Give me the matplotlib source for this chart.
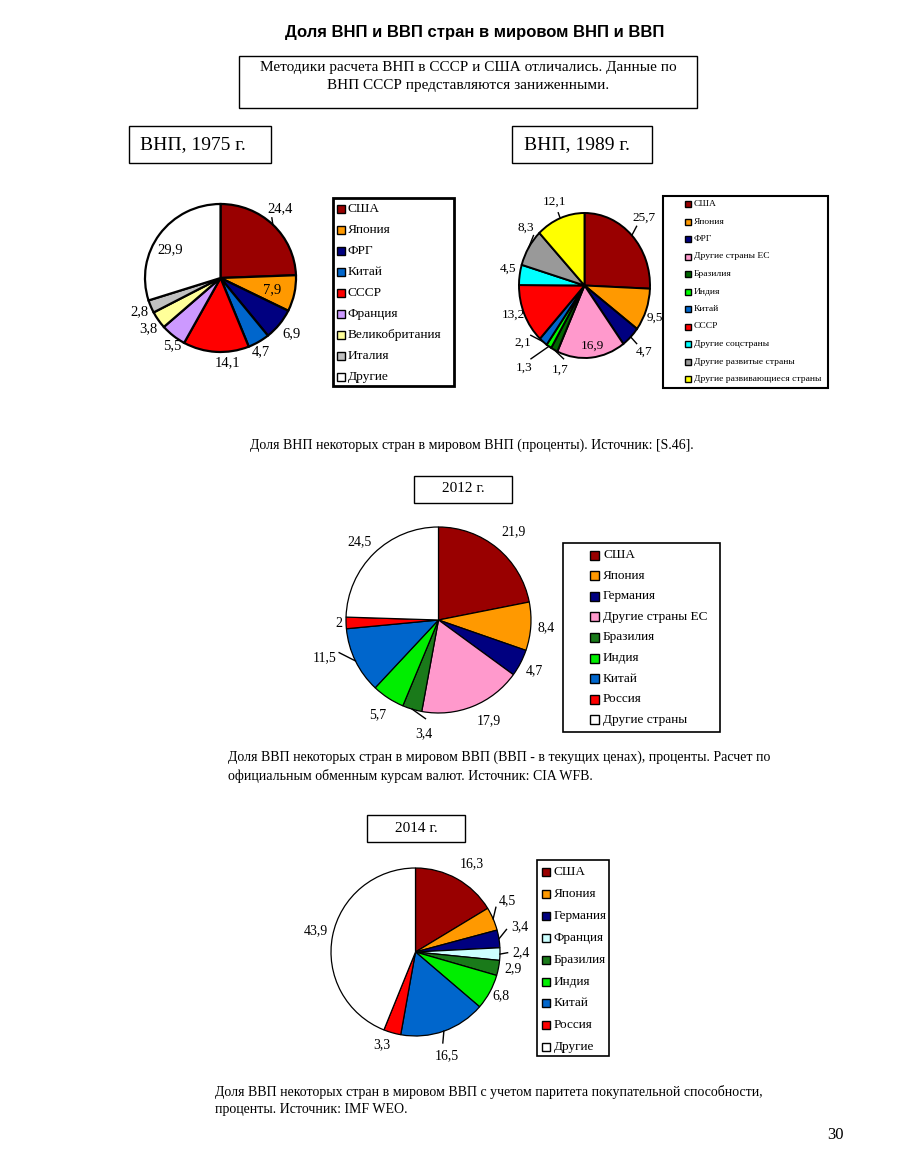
import numpy as np
import matplotlib
matplotlib.use("Agg")
import matplotlib.pyplot as plt
from matplotlib.patches import Rectangle

W, H = 907, 1154
SERIF = "Liberation Serif"

# ---- data ----
names_1975 = ["США", "Япония", "ФРГ", "Китай", "СССР", "Франция",
              "Великобритания", "Италия", "Другие"]
values_1975 = [24.4, 7.9, 6.9, 4.7, 14.1, 5.5, 3.8, 2.8, 29.9]
colors_1975 = ["#990000", "#FF9900", "#000080", "#0066CC", "#FF0000",
               "#CC99FF", "#FFFF99", "#C0C0C0", "#FFFFFF"]

names_1989 = ["США", "Япония", "ФРГ", "Другие страны ЕС", "Бразилия", "Индия",
              "Китай", "СССР", "Другие соцстраны", "Другие развитые страны",
              "Другие развивающиеся страны"]
values_1989 = [25.7, 9.5, 4.7, 16.9, 1.7, 1.3, 2.1, 13.2, 4.5, 8.3, 12.1]
colors_1989 = ["#990000", "#FF9900", "#000080", "#FF99CC", "#006600", "#00FF00",
               "#0066CC", "#FF0000", "#00FFFF", "#999999", "#FFFF00"]

names_2012 = ["США", "Япония", "Германия", "Другие страны ЕС", "Бразилия",
              "Индия", "Китай", "Россия", "Другие страны"]
values_2012 = [21.9, 8.4, 4.7, 17.9, 3.4, 5.7, 11.5, 2, 24.5]
colors_2012 = ["#990000", "#FF9900", "#000080", "#FF99CC", "#1A7A1A",
               "#00EE00", "#0066CC", "#FF0000", "#FFFFFF"]

names_2014 = ["США", "Япония", "Германия", "Франция", "Бразилия", "Индия",
              "Китай", "Россия", "Другие"]
values_2014 = [16.3, 4.5, 3.4, 2.4, 2.9, 6.8, 16.5, 3.3, 43.9]
colors_2014 = ["#990000", "#FF9900", "#000080", "#CCFFFF", "#1A7A1A",
               "#00EE00", "#0066CC", "#FF0000", "#FFFFFF"]

fig = plt.figure(figsize=(W / 100, H / 100), dpi=100)
fig.patch.set_facecolor("white")


def frac(x0, y0, x1, y1):
    return [x0 / W, 1 - y1 / H, (x1 - x0) / W, (y1 - y0) / H]


def draw_pie(box, values, colors, radii, shifts, leaders, lw, fs):
    ax = fig.add_axes(frac(*box))
    wedges, _ = ax.pie(values, colors=colors, startangle=90, counterclock=False,
                       wedgeprops=dict(edgecolor="black", linewidth=lw))
    ax.set_aspect("auto")
    ax.set_xlim(-1, 1)
    ax.set_ylim(-1, 1)
    for i, w in enumerate(wedges):
        w.set_clip_on(False)
        mid = np.deg2rad((w.theta1 + w.theta2) / 2)
        ang = mid - np.deg2rad(shifts[i])
        r = radii[i]
        lab = f"{values[i]:g}".replace(".", ",")
        ax.text(r * np.cos(ang), r * np.sin(ang), lab, ha="center", va="center",
                fontsize=fs, family=SERIF)
        if i in leaders:
            re = r - 0.16
            ax.plot([np.cos(mid), re * np.cos(ang)], [np.sin(mid), re * np.sin(ang)],
                    color="black", lw=1.0, clip_on=False)
    return ax


# pies
draw_pie((145, 204, 296, 352), values_1975, colors_1975,
         [1.22, 0.7, 1.2, 1.13, 1.15, 1.12, 1.18, 1.17, 0.77],
         [-4, 1.5, 0, 2, -8, -4, -1, 0, -6], [0], 1.6, 10.5)
draw_pie((519, 213, 650, 358), values_1989, colors_1989,
         [1.3, 1.16, 1.29, 0.84, 1.22, 1.46, 1.23, 1.16, 1.19, 1.2, 1.24],
         [-2, 3, 0, -2, -10, 6, 11, 3, 3, 10, 0], [0, 2, 4, 5, 6, 9, 10], 1.4, 9.5)
draw_pie((346, 527, 531, 713), values_2012, colors_2012,
         [1.25, 1.17, 1.17, 1.21, 1.23, 1.21, 1.29, 1.08, 1.2],
         [1, 0, 0, -5, -9, 0, 8, 0, -1], [4, 6], 0.9, 10)
draw_pie((331, 868, 500, 1036), values_2014, colors_2014,
         [1.25, 1.25, 1.27, 1.25, 1.17, 1.14, 1.29, 1.18, 1.2],
         [3, -6, -5, -1, -1, -1, 3, 4, 1], [1, 2, 3, 6], 0.9, 10)

# overlay for text, frames and legends (pixel coordinates)
ov = fig.add_axes([0, 0, 1, 1])
ov.set_xlim(0, W)
ov.set_ylim(H, 0)
ov.axis("off")
ov.set_zorder(5)


def frame(x0, y0, x1, y1, lw=1.0, fc="none"):
    ov.add_patch(Rectangle((x0, y0), x1 - x0, y1 - y0, fc=fc, ec="black", lw=lw))


def draw_legend(rect, names, colors, y_first, step, sq_x, sq, tx, fs, lw):
    frame(*rect, lw=lw, fc="white")
    for i, (n, c) in enumerate(zip(names, colors)):
        y = y_first + i * step
        ov.add_patch(Rectangle((sq_x, y - sq / 2), sq, sq, fc=c, ec="black", lw=1.0))
        ov.text(tx, y, n, ha="left", va="center", fontsize=fs, family=SERIF)


draw_legend((333, 198, 454, 386), names_1975, colors_1975, 209, 21, 337, 8, 348, 9.6, 2.0)
draw_legend((663, 196, 828, 388), names_1989, colors_1989, 204, 17.5, 685, 6, 694, 6.8, 1.5)
draw_legend((563, 543, 720, 732), names_2012, colors_2012, 555, 20.6, 590, 9, 603, 9.5, 1.2)
draw_legend((537, 860, 609, 1056), names_2014, colors_2014, 872, 21.9, 542, 8, 554, 9.5, 1.2)

# title and notes
ov.text(475, 32, "Доля ВНП и ВВП стран в мировом ВНП и ВВП", ha="center", va="center",
        fontsize=12, fontweight="bold", family="Liberation Sans")
frame(239, 56, 697, 108)
ov.text(468, 68, "Методики расчета ВНП в СССР и США отличались. Данные по",
        ha="center", va="center", fontsize=11, family=SERIF)
ov.text(468, 86, "ВНП СССР представляются заниженными.",
        ha="center", va="center", fontsize=11, family=SERIF)

frame(129, 126, 271, 163)
ov.text(140, 145, "ВНП, 1975 г.", ha="left", va="center", fontsize=14, family=SERIF)
frame(512, 126, 652, 163)
ov.text(524, 145, "ВНП, 1989 г.", ha="left", va="center", fontsize=14, family=SERIF)

ov.text(472, 445, "Доля ВНП некоторых стран в мировом ВНП (проценты). Источник: [S.46].",
        ha="center", va="center", fontsize=10, family=SERIF)

frame(414, 476, 512, 503)
ov.text(463, 489, "2012 г.", ha="center", va="center", fontsize=11, family=SERIF)
ov.text(228, 757, "Доля ВВП некоторых стран в мировом ВВП (ВВП - в текущих ценах), проценты. Расчет по",
        ha="left", va="center", fontsize=10, family=SERIF)
ov.text(228, 776, "официальным обменным курсам валют. Источник: CIA WFB.",
        ha="left", va="center", fontsize=10, family=SERIF)

frame(367, 815, 465, 842)
ov.text(416, 829, "2014 г.", ha="center", va="center", fontsize=11, family=SERIF)
ov.text(215, 1092, "Доля ВВП некоторых стран в мировом ВВП с учетом паритета покупательной способности,",
        ha="left", va="center", fontsize=10, family=SERIF)
ov.text(215, 1109, "проценты. Источник: IMF WEO.",
        ha="left", va="center", fontsize=10, family=SERIF)

ov.text(844, 1135, "30", ha="right", va="center", fontsize=12, family=SERIF)

fig.savefig("out.png", dpi=100)
